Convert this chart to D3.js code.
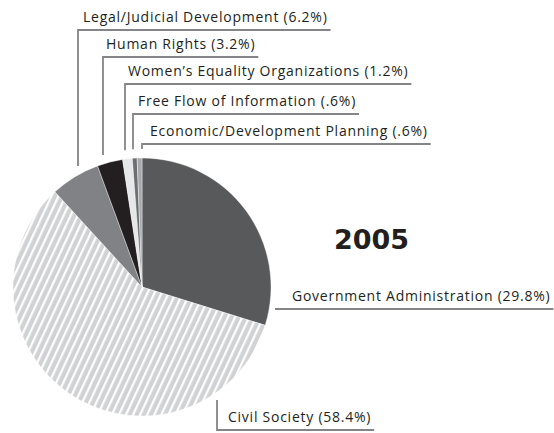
<!DOCTYPE html>
<html>
<head>
<meta charset="utf-8">
<script src="https://cdn.jsdelivr.net/npm/d3@7"></script>
<style>
  body { margin: 0; background: #fff; }
  text { font-family: "Open Sans", "Noto Sans", sans-serif; fill: #231f20; }
</style>
</head>
<body>
<script>
var categories = ["Government Administration", "Civil Society", "Legal/Judicial Development",
  "Human Rights", "Women\u2019s Equality Organizations", "Free Flow of Information",
  "Economic/Development Planning"];
var shares = [29.8, 58.4, 6.2, 3.2, 1.2, 0.6, 0.6];
var shareLabels = ["29.8%", "58.4%", "6.2%", "3.2%", "1.2%", ".6%", ".6%"];
var year = "2005";

var width = 554, height = 433,
  cx = 142, cy = 287, radius = 129;

var fills = ["#58595b", "url(#hatch)", "#808285", "#231f20", "#e6e7e8", "#6d6e71", "#a7a9ac"];

// label placement: lx = vertical leader x, ly = underline y, tx = text start
var labelLayout = [
  { lx: 275, ly: 309, tx: 292, kind: "flat" },
  { lx: 217, ly: 430, tx: 228, kind: "down" },
  { lx: 78, ly: 30, tx: 83, kind: "up" },
  { lx: 103, ly: 57, tx: 106, kind: "up" },
  { lx: 125, ly: 84, tx: 128, kind: "up" },
  { lx: 133, ly: 114, tx: 138, kind: "up" },
  { lx: 142, ly: 144, tx: 150, kind: "up" }
];

var svg = d3.select("body").append("svg")
  .attr("width", width)
  .attr("height", height);

var defs = svg.append("defs");
var pat = defs.append("pattern")
  .attr("id", "hatch")
  .attr("patternUnits", "userSpaceOnUse")
  .attr("width", 6.4)
  .attr("height", 10)
  .attr("patternTransform", "rotate(25)");
pat.append("rect").attr("width", 6.4).attr("height", 10).attr("fill", "#d1d2d4");
pat.append("rect").attr("x", 0).attr("width", 2.2).attr("height", 10).attr("fill", "#fff");

var pie = d3.pie().sort(null).value(function (d) { return d; });
var arc = d3.arc().innerRadius(0).outerRadius(radius);

var arcs = pie(shares);

var g = svg.append("g").attr("transform", "translate(" + cx + "," + cy + ")");
g.selectAll("path")
  .data(arcs)
  .enter().append("path")
  .attr("d", arc)
  .attr("fill", function (d, i) { return fills[i]; })
  .attr("stroke", "#fff")
  .attr("stroke-width", 0.4);

// labels + leader lines
var lab = svg.append("g");
categories.forEach(function (name, i) {
  var L = labelLayout[i];
  var t = lab.append("text")
    .attr("x", L.tx)
    .attr("y", L.ly - 8)
    .style("font-size", "14px")
    .style("letter-spacing", "0.75px")
    .text(name + " (" + shareLabels[i] + ")");
  var endX = L.tx + t.node().getComputedTextLength() + 3;
  var pts;
  if (L.kind === "up") {
    var edge = cy - Math.sqrt(radius * radius - (L.lx - cx) * (L.lx - cx)) - 9;
    pts = [[L.lx, edge], [L.lx, L.ly], [endX, L.ly]];
  } else if (L.kind === "down") {
    var edge2 = cy + Math.sqrt(radius * radius - (L.lx - cx) * (L.lx - cx)) + 8;
    pts = [[L.lx, edge2], [L.lx, L.ly], [endX, L.ly]];
  } else {
    pts = [[L.lx, L.ly], [endX, L.ly]];
  }
  lab.append("path")
    .attr("d", d3.line()(pts))
    .attr("fill", "none")
    .attr("stroke", "#848588")
    .attr("stroke-width", 1.8);
});

svg.append("text")
  .attr("x", 334)
  .attr("y", 249)
  .style("font-family", "'DejaVu Sans', sans-serif")
  .style("font-weight", "bold")
  .style("font-size", "27px")
  .text(year);
</script>
</body>
</html>
